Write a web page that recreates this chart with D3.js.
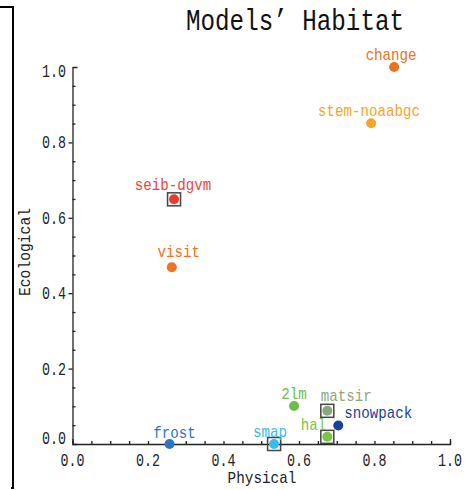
<!DOCTYPE html>
<html>
<head>
<meta charset="utf-8">
<script src="https://cdn.jsdelivr.net/npm/d3@7"></script>
<style>
  body { margin: 0; background: #fff; }
  text { font-family: "Liberation Mono", "DejaVu Sans Mono", monospace; }
</style>
</head>
<body>
<svg id="chart" width="473" height="490"></svg>
<script>
// data
var models     = ['change', 'stem-noaabgc', 'seib-dgvm', 'visit', 'frost', 'smap', '2lm', 'matsir', 'snowpack', 'hal'];
var physical   = [0.852, 0.791, 0.269, 0.263, 0.257, 0.534, 0.587, 0.675, 0.704, 0.675];
var ecological = [1.000, 0.851, 0.649, 0.469, 0.000, 0.000, 0.101, 0.088, 0.049, 0.019];
var boxed      = ['seib-dgvm', 'smap', 'matsir', 'hal'];
var majorTicks = [0, 0.2, 0.4, 0.6, 0.8, 1.0];
var tickLabels = ['0.0', '0.2', '0.4', '0.6', '0.8', '1.0'];
var minorTicks = [0.05, 0.1, 0.15, 0.25, 0.3, 0.35, 0.45, 0.5, 0.55, 0.65, 0.7, 0.75, 0.85, 0.9, 0.95];

// styling
var palette = {
	'change': '#ea7320', 'stem-noaabgc': '#f5a42a', 'seib-dgvm': '#e83a30', 'visit': '#ee7220',
	'frost': '#2f74c4', 'smap': '#37bde9', '2lm': '#6dbd4c', 'matsir': '#8ea67b',
	'snowpack': '#1c3f9c', 'hal': '#7dc344'
};
var labelColor = { 'seib-dgvm': '#ec4640' };
var place = {
	'change':       { a: 'middle', dx: -3, dy: -7 },
	'stem-noaabgc': { a: 'middle', dx: -2, dy: -7 },
	'seib-dgvm':    { a: 'middle', dx: -1, dy: -9 },
	'visit':        { a: 'middle', dx: 7,  dy: -10 },
	'frost':        { a: 'middle', dx: 5,  dy: -6 },
	'smap':         { a: 'middle', dx: -4, dy: -7 },
	'2lm':          { a: 'middle', dx: 0,  dy: -7 },
	'matsir':       { a: 'middle', dx: 19, dy: -10 },
	'snowpack':     { a: 'start',  dx: 6,  dy: -8 },
	'hal':          { a: 'end',    dx: -1, dy: -7 }
};

var svg = d3.select('#chart');
var x = d3.scaleLinear().domain([0, 1]).range([72.5, 450]);
var y = d3.scaleLinear().domain([0, 1]).range([444, 67]);

// condensed text like the original gothic font
function txt(g, s, px, py, perChar, size, anchor, color) {
	return g.append('text')
		.attr('x', px).attr('y', py)
		.attr('text-anchor', anchor || 'middle')
		.attr('textLength', s.length * perChar)
		.attr('lengthAdjust', 'spacingAndGlyphs')
		.style('font-size', size + 'px')
		.style('fill', color || '#222')
		.text(s);
}

// left frame bracket
svg.append('path')
	.attr('d', 'M0,7H13V488H11')
	.attr('fill', 'none').attr('stroke', '#000').attr('stroke-width', 2);

// title
svg.append('text')
	.attr('x', 186).attr('y', 30)
	.attr('textLength', 218).attr('lengthAdjust', 'spacingAndGlyphs')
	.style('font-size', '29px').style('fill', '#111')
	.text('Models\u2019 Habitat');

// x axis: minor ticks upward, ends turn up
var gx = svg.append('g').attr('transform', 'translate(0,444)');
gx.call(d3.axisBottom(x).tickValues(majorTicks.concat(minorTicks)).tickSizeInner(-3).tickSizeOuter(-5).tickFormat(''));
gx.selectAll('path,line').attr('stroke', '#222').attr('stroke-width', 1.3);

// y axis: majors left, minors right, ends turn right
var gy = svg.append('g').attr('transform', 'translate(72.5,0)');
gy.call(d3.axisLeft(y).tickValues(majorTicks.slice(1, 5)).tickSizeInner(4).tickSizeOuter(-5).tickFormat(''));
gy.append('g').call(d3.axisLeft(y).tickValues(minorTicks).tickSizeInner(-3).tickSizeOuter(0).tickFormat(''))
	.select('.domain').remove();
gy.selectAll('path,line').attr('stroke', '#222').attr('stroke-width', 1.3);

// tick labels
majorTicks.forEach(function (v, i) {
	txt(svg, tickLabels[i], x(v), 466, 8, 18, 'middle');
	var cy = Math.max(71, Math.min(438, y(v)));
	txt(svg, tickLabels[i], 66, cy + 6, 8, 18, 'end');
});

// axis titles
txt(svg, 'Physical', 262, 483, 8.6, 17, 'middle');
txt(svg, 'Ecological', 0, 0, 8.8, 17, 'middle').attr('transform', 'translate(30,252) rotate(-90)');

// points
var pts = models.map(function (m, i) { return { name: m, px: physical[i], ec: ecological[i] }; });
var gp = svg.append('g');

gp.selectAll('rect.box').data(pts.filter(function (d) { return boxed.indexOf(d.name) >= 0; }))
	.enter().append('rect').attr('class', 'box')
	.attr('x', function (d) { return x(d.px) - 6.5; })
	.attr('y', function (d) { return y(d.ec) - 6.5; })
	.attr('width', 13).attr('height', 13)
	.attr('fill', 'none').attr('stroke', '#444').attr('stroke-width', 1.5);

gp.selectAll('circle').data(pts).enter().append('circle')
	.attr('cx', function (d) { return x(d.px); })
	.attr('cy', function (d) { return y(d.ec); })
	.attr('r', 5)
	.attr('fill', function (d) { return palette[d.name]; });

pts.forEach(function (d) {
	var p = place[d.name];
	txt(gp, d.name, x(d.px) + p.dx, y(d.ec) + p.dy, 8.5, 17, p.a, labelColor[d.name] || palette[d.name]);
});
</script>
</body>
</html>
